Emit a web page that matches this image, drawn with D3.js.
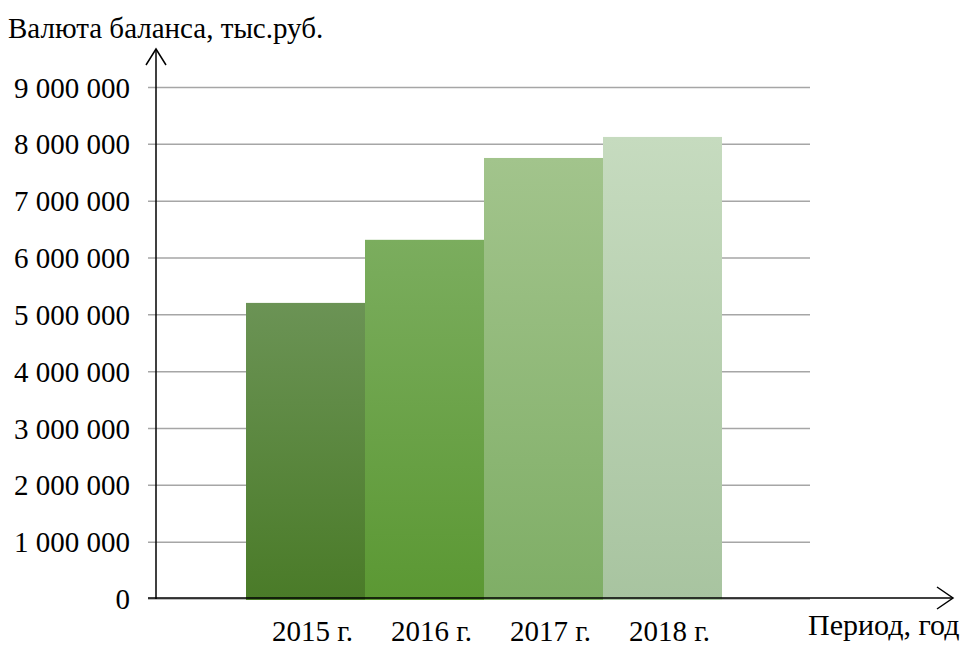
<!DOCTYPE html>
<html><head><meta charset="utf-8">
<script src="https://cdn.jsdelivr.net/npm/d3@7"></script>
<style>body{margin:0;background:#fff}svg{display:block}text{font-family:"Liberation Serif","Times New Roman",serif;fill:#000}</style>
</head><body><svg id="c" width="961" height="649"></svg>
<script>
const categories = ["2015 г.", "2016 г.", "2017 г.", "2018 г."];
const values = [5210000, 6320000, 7760000, 8130000];
const yTicks = [0,1000000,2000000,3000000,4000000,5000000,6000000,7000000,8000000,9000000];
const tickLabels = ["0","1 000 000","2 000 000","3 000 000","4 000 000","5 000 000","6 000 000","7 000 000","8 000 000","9 000 000"];
const topColors = ["#6b9355","#7bad5e","#a2c48c","#c6dbbf"];
const bottomColors = ["#4a7b28","#5b9833","#7fae66","#a8c4a0"];
const yTitle = "Валюта баланса, тыс.руб.";
const xTitle = "Период, год";

const svg = d3.select("#c");
const y = d3.scaleLinear().domain([0, 9000000]).range([599, 87.5]);
const x = d3.scaleBand().domain(categories).range([246, 722]).padding(0);

const defs = svg.append("defs");
categories.forEach((c,i)=>{
  const g = defs.append("linearGradient").attr("id","g"+i).attr("x1",0).attr("y1",0).attr("x2",0).attr("y2",1);
  g.append("stop").attr("offset","0%").attr("stop-color",topColors[i]);
  g.append("stop").attr("offset","100%").attr("stop-color",bottomColors[i]);
});

svg.append("g").selectAll("line").data(yTicks).join("line")
  .attr("x1",148).attr("x2",810).attr("y1",d=>y(d)).attr("y2",d=>y(d))
  .attr("stroke","#a6a6a6").attr("stroke-width",1.5);

svg.append("g").selectAll("text").data(yTicks).join("text")
  .attr("x",130).attr("y",d=>y(d)+10).attr("text-anchor","end")
  .attr("font-size",29).text((d,i)=>tickLabels[i]);

svg.append("g").selectAll("rect").data(values).join("rect")
  .attr("x",(d,i)=>x(categories[i])).attr("width",x.bandwidth())
  .attr("y",d=>y(d)).attr("height",d=>y(0)-y(d)+1)
  .attr("fill",(d,i)=>`url(#g${i})`);

svg.append("line").attr("x1",148).attr("x2",953).attr("y1",598).attr("y2",598).attr("stroke","#000").attr("stroke-width",1.5);
svg.append("path").attr("d","M937,587L953,598L937,609").attr("fill","none").attr("stroke","#000").attr("stroke-width",1.5);
svg.append("line").attr("x1",156).attr("x2",156).attr("y1",49).attr("y2",599).attr("stroke","#000").attr("stroke-width",1.5);
svg.append("path").attr("d","M146,65L156,49L166,65").attr("fill","none").attr("stroke","#000").attr("stroke-width",1.5);

svg.append("g").selectAll("text").data(categories).join("text")
  .attr("x",d=>x(d)+x.bandwidth()/2+7).attr("y",641).attr("text-anchor","middle")
  .attr("font-size",29).text(d=>d);

svg.append("text").attr("x",8).attr("y",38).attr("font-size",29).text(yTitle);
svg.append("text").attr("x",808).attr("y",635).attr("font-size",30).text(xTitle);
</script></body></html>
